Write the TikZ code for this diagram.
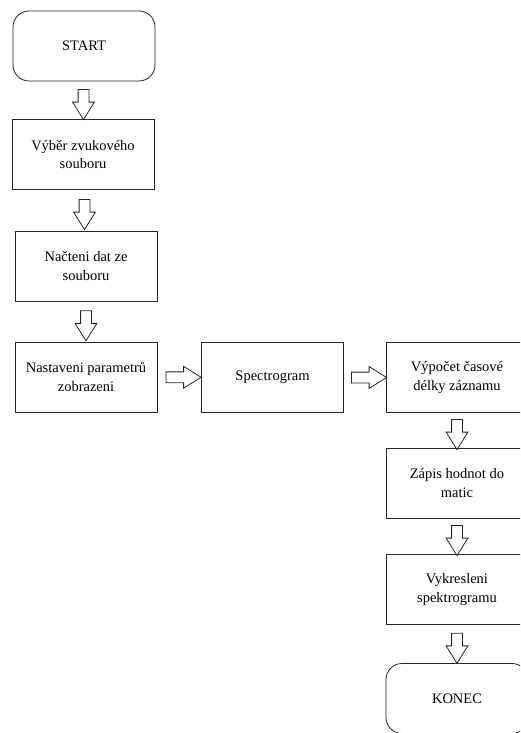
\documentclass[tikz,border=0pt]{standalone}
\usepackage{fontspec}
\setmainfont{Liberation Serif}
\usetikzlibrary{shapes.arrows, calc}
\tikzset{krok/.style={draw=black!85, line width=.8pt, rectangle, minimum width=142pt, minimum height=70pt, align=center, inner sep=1pt, font=\fontsize{14.5}{18.5}\selectfont}}
\tikzset{mez/.style={krok, rounded corners=16pt}}
\tikzset{sipka/.style={draw=black!85, line width=.8pt, single arrow, minimum height=30pt, inner sep=5pt, single arrow head extend=5.5pt, single arrow tip angle=64}}
\newcommand{\mezi}[2]{($(#1)!.5!(#2)$)}

\begin{document}
\begin{tikzpicture}[x=1pt, y=-1pt]

  \useasboundingbox (0,0) rectangle (520,733);
  \clip (0,0) rectangle (520,733);

  % --- left column ---
  \begin{scope}
    \node[mez]  (start)     at (84,46)   {START};
    \node[krok] (vyber)     at (83,154.5) {Výběr zvukového\\souboru};
    \node[krok] (nacteni)   at (86,266)  {Načteni dat ze\\souboru};
    \node[krok] (nastaveni) at (86,377)  {Nastaveni parametrů\\zobrazeni};

    \node[sipka, rotate=-90] (s1) at \mezi{start.south}{vyber.north} {};
    \node[sipka, rotate=-90] (s2) at \mezi{vyber.south}{nacteni.north} {};
    \node[sipka, rotate=-90] (s3) at \mezi{nacteni.south}{nastaveni.north} {};
  \end{scope}

  % --- middle ---
  \begin{scope}
    \node[krok] (spectro) at (272.5,377.5) {Spectrogram};
    \node[sipka, minimum height=35pt] (s4) at \mezi{nastaveni.east}{spectro.west} {};
  \end{scope}

  % --- right column ---
  \begin{scope}
    \node[krok] (vypocet)    at (457,377.5) {Výpočet časové\\délky záznamu};
    \node[krok] (zapis)      at (457,483)   {Zápis hodnot do\\matic};
    \node[krok] (vykresleni) at (457,589.5) {Vykresleni\\spektrogramu};
    \node[mez]  (konec)      at (457,698.5) {KONEC};

    \node[sipka, minimum height=35pt] (s5) at \mezi{spectro.east}{vypocet.west} {};
    \node[sipka, rotate=-90] (s6) at \mezi{vypocet.south}{zapis.north} {};
    \node[sipka, rotate=-90] (s7) at \mezi{zapis.south}{vykresleni.north} {};
    \node[sipka, rotate=-90] (s8) at \mezi{vykresleni.south}{konec.north} {};
  \end{scope}

\end{tikzpicture}
\end{document}
